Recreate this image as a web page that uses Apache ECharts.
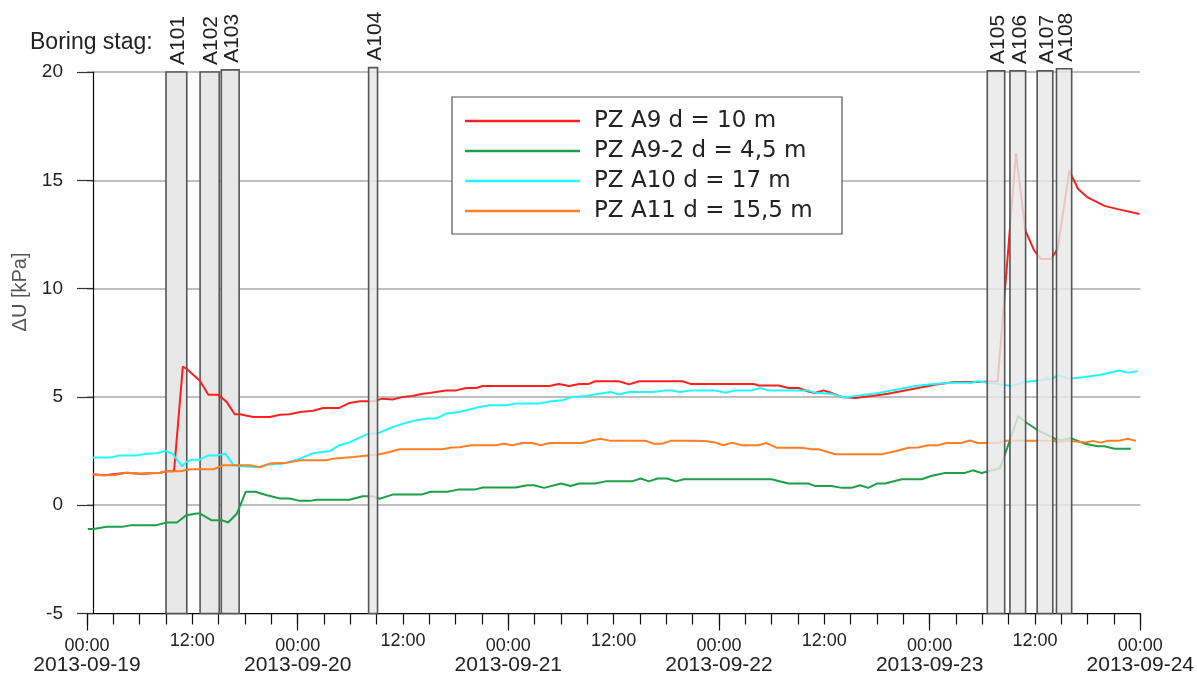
<!DOCTYPE html>
<html>
<head>
<meta charset="utf-8">
<script src="https://cdn.jsdelivr.net/npm/echarts@6/dist/echarts.min.js"></script>
<style>
  html, body { margin: 0; padding: 0; background: #fff; }
  #chart { width: 1197px; height: 676px; }
</style>
</head>
<body>
<div id="chart"></div>
<script>
// Pore pressure change at piezometers during drilling, 19–24 Sept 2013
const YEAR = 2013;

const redTimes = ['09-19 00:40','09-19 02:00','09-19 04:30','09-19 06:05','09-19 08:20','09-19 09:05','09-19 09:55','09-19 10:55','09-19 11:20','09-19 12:50','09-19 13:50','09-19 14:57','09-19 15:55','09-19 16:50','09-19 17:25','09-19 18:55','09-19 20:50','09-19 21:58','09-19 23:05','09-20 00:15','09-20 01:45','09-20 02:55','09-20 04:45','09-20 05:55','09-20 07:05','09-20 08:35','09-20 09:40','09-20 10:50','09-20 12:00','09-20 13:05','09-20 14:15','09-20 15:00','09-20 16:55','09-20 18:05','09-20 19:10','09-20 20:20','09-20 21:05','09-21 04:40','09-21 05:45','09-21 06:55','09-21 08:05','09-21 09:10','09-21 09:55','09-21 12:35','09-21 13:45','09-21 14:55','09-21 19:50','09-21 20:45','09-22 03:55','09-22 04:30','09-22 06:45','09-22 07:55','09-22 09:05','09-22 10:10','09-22 10:55','09-22 11:55','09-22 12:50','09-22 14:00','09-22 15:30','09-22 17:25','09-22 19:15','09-22 21:10','09-22 22:40','09-23 00:35','09-23 02:50','09-23 05:30','09-23 07:45','09-23 09:50','09-23 10:55','09-23 11:55','09-23 12:40','09-23 13:50','09-23 14:35','09-23 15:55','09-23 16:55','09-23 18:00','09-23 19:55','09-23 21:25','09-23 23:55'];
const redValues = [1.43,1.38,1.5,1.45,1.5,1.57,1.57,6.4,6.3,5.76,5.1,5.1,4.76,4.2,4.2,4.07,4.07,4.18,4.2,4.3,4.36,4.49,4.49,4.72,4.8,4.8,4.92,4.88,5.0,5.04,5.15,5.18,5.3,5.3,5.41,5.41,5.5,5.5,5.6,5.5,5.6,5.6,5.72,5.72,5.58,5.72,5.72,5.6,5.6,5.53,5.53,5.41,5.41,5.25,5.18,5.3,5.18,5.0,4.95,5.04,5.15,5.3,5.41,5.56,5.69,5.69,5.72,16.25,12.67,11.75,11.37,11.37,11.83,15.44,14.6,14.21,13.82,13.67,13.44];

const greenTimes = ['09-19 00:05','09-19 00:45','09-19 02:15','09-19 04:00','09-19 05:05','09-19 07:55','09-19 09:05','09-19 10:15','09-19 11:20','09-19 12:30','09-19 12:50','09-19 14:10','09-19 15:20','09-19 16:05','09-19 17:05','09-19 18:05','09-19 19:10','09-19 20:30','09-19 22:00','09-19 23:05','09-20 00:15','09-20 01:25','09-20 02:10','09-20 05:55','09-20 07:25','09-20 08:35','09-20 09:20','09-20 10:50','09-20 14:05','09-20 15:10','09-20 17:05','09-20 18:15','09-20 20:10','09-20 21:05','09-21 00:50','09-21 02:10','09-21 02:55','09-21 04:05','09-21 06:00','09-21 07:05','09-21 08:05','09-21 09:55','09-21 11:05','09-21 14:05','09-21 15:05','09-21 16:00','09-21 17:00','09-21 18:05','09-21 19:05','09-21 20:00','09-22 06:00','09-22 07:55','09-22 10:10','09-22 10:55','09-22 12:50','09-22 14:00','09-22 15:05','09-22 16:05','09-22 17:00','09-22 18:00','09-22 18:55','09-22 20:50','09-22 23:05','09-23 00:10','09-23 01:45','09-23 04:00','09-23 04:55','09-23 05:55','09-23 08:00','09-23 09:05','09-23 10:05','09-23 10:55','09-23 12:20','09-23 14:15','09-23 15:00','09-23 16:05','09-23 17:40','09-23 19:10','09-23 19:55','09-23 21:05','09-23 22:55'];
const greenValues = [-1.1,-1.1,-1.0,-1.0,-0.92,-0.92,-0.8,-0.8,-0.46,-0.38,-0.38,-0.69,-0.69,-0.8,-0.38,0.62,0.62,0.46,0.31,0.31,0.2,0.2,0.25,0.25,0.41,0.41,0.3,0.49,0.49,0.62,0.62,0.72,0.72,0.82,0.82,0.92,0.92,0.8,1.0,0.89,1.0,1.0,1.1,1.1,1.23,1.1,1.23,1.23,1.1,1.2,1.2,1.0,1.0,0.89,0.89,0.8,0.8,0.92,0.8,1.0,1.0,1.2,1.2,1.35,1.49,1.49,1.61,1.49,1.7,2.92,4.12,3.84,3.46,3.07,3.0,3.1,2.84,2.72,2.72,2.61,2.61];

const cyanTimes = ['09-19 00:40','09-19 02:40','09-19 03:45','09-19 05:40','09-19 06:50','09-19 07:55','09-19 08:55','09-19 09:40','09-19 10:50','09-19 11:20','09-19 11:55','09-19 12:50','09-19 13:50','09-19 14:45','09-19 15:45','09-19 16:40','09-19 17:25','09-19 19:40','09-19 20:30','09-19 22:20','09-20 00:15','09-20 01:45','09-20 03:40','09-20 04:45','09-20 05:55','09-20 07:50','09-20 09:20','09-20 10:50','09-20 12:20','09-20 13:30','09-20 14:50','09-20 15:45','09-20 16:55','09-20 18:25','09-20 19:35','09-20 20:40','09-20 21:50','09-20 23:45','09-21 00:50','09-21 03:30','09-21 04:40','09-21 06:10','09-21 07:20','09-21 08:50','09-21 10:20','09-21 11:40','09-21 12:35','09-21 13:45','09-21 16:25','09-21 17:55','09-21 18:40','09-21 19:35','09-21 20:45','09-21 23:35','09-22 00:45','09-22 01:50','09-22 03:45','09-22 04:40','09-22 05:40','09-22 10:10','09-22 10:55','09-22 12:50','09-22 14:00','09-22 14:45','09-22 15:55','09-22 18:10','09-22 20:25','09-22 22:20','09-23 00:10','09-23 02:30','09-23 04:45','09-23 05:30','09-23 06:40','09-23 07:45','09-23 09:20','09-23 10:50','09-23 12:20','09-23 14:00','09-23 14:35','09-23 15:55','09-23 17:40','09-23 19:30','09-23 21:35','09-23 22:35','09-23 23:40'];
const cyanValues = [2.2,2.2,2.3,2.3,2.38,2.4,2.5,2.4,1.8,2.0,2.1,2.1,2.3,2.3,2.38,1.87,1.8,1.75,1.87,1.92,2.15,2.4,2.5,2.77,2.9,3.27,3.35,3.61,3.8,3.92,4.0,4.0,4.23,4.3,4.42,4.53,4.61,4.61,4.69,4.69,4.79,4.84,5.0,5.04,5.15,5.23,5.11,5.23,5.23,5.3,5.3,5.23,5.3,5.3,5.19,5.3,5.3,5.41,5.3,5.3,5.19,5.15,5.0,5.0,5.07,5.18,5.35,5.5,5.58,5.65,5.65,5.72,5.65,5.6,5.5,5.69,5.76,5.84,5.99,5.84,5.92,6.02,6.22,6.12,6.19];

const orangeTimes = ['09-19 00:40','09-19 01:30','09-19 03:00','09-19 04:30','09-19 06:05','09-19 08:20','09-19 09:05','09-19 10:35','09-19 11:45','09-19 14:25','09-19 15:30','09-19 18:35','09-19 19:40','09-19 20:50','09-19 22:45','09-20 00:15','09-20 03:15','09-20 04:00','09-20 06:20','09-20 09:20','09-20 10:30','09-20 11:35','09-20 16:30','09-20 17:30','09-20 18:25','09-20 19:45','09-20 22:35','09-20 23:30','09-21 00:30','09-21 01:35','09-21 02:45','09-21 03:40','09-21 04:40','09-21 08:25','09-21 09:35','09-21 10:30','09-21 11:40','09-21 15:40','09-21 16:35','09-21 17:30','09-21 18:30','09-21 21:20','09-21 22:40','09-21 23:35','09-22 00:30','09-22 01:30','09-22 02:35','09-22 04:30','09-22 05:25','09-22 06:35','09-22 09:25','09-22 10:35','09-22 11:20','09-22 13:15','09-22 18:30','09-22 20:05','09-22 21:35','09-22 22:40','09-22 23:50','09-23 00:58','09-23 01:55','09-23 03:35','09-23 04:35','09-23 05:30','09-23 07:45','09-23 08:35','09-23 14:15','09-23 14:35','09-23 15:45','09-23 17:40','09-23 18:35','09-23 19:30','09-23 20:15','09-23 21:25','09-23 22:35','09-23 23:30'];
const orangeValues = [1.43,1.38,1.38,1.5,1.45,1.5,1.57,1.57,1.66,1.66,1.84,1.84,1.75,1.92,1.96,2.07,2.07,2.15,2.23,2.35,2.46,2.58,2.58,2.66,2.68,2.77,2.77,2.84,2.77,2.87,2.87,2.77,2.87,2.87,3.0,3.07,2.97,2.97,2.84,2.84,2.97,2.97,2.95,2.89,2.77,2.89,2.77,2.77,2.87,2.65,2.65,2.58,2.58,2.35,2.35,2.49,2.65,2.66,2.77,2.77,2.87,2.87,2.99,2.87,2.87,2.97,2.97,2.89,2.97,2.89,2.97,2.89,2.97,2.97,3.07,2.97];

// Boreholes drilled ("boring stag"): start, end, drawn height in kPa
const boreNames  = ['A101','A102','A103','A104','A105','A106','A107','A108'];
const boreStart  = ['09-19 09:00','09-19 12:53','09-19 15:18','09-20 08:05','09-23 06:34','09-23 09:09','09-23 12:15','09-23 14:27'];
const boreEnd    = ['09-19 11:22','09-19 15:04','09-19 17:20','09-20 09:06','09-23 08:33','09-23 10:56','09-23 14:02','09-23 16:11'];
const boreTop    = [20, 20, 20.1, 20.2, 20.05, 20.05, 20.05, 20.15];

const seriesNames = ['PZ A9 d = 10 m', 'PZ A9-2 d = 4,5 m', 'PZ A10 d = 17 m', 'PZ A11 d = 15,5 m'];
const yTicks = { min: -5, max: 20, step: 5 };
const xStart = '09-19 00:00', xEnd = '09-24 00:00';

const HOUR = 3600 * 1000;
function T(s) {
  return Date.UTC(YEAR, +s.slice(0, 2) - 1, +s.slice(3, 5), +s.slice(6, 8), +s.slice(9, 11));
}
function pad(n) { return (n < 10 ? '0' : '') + n; }
function pairs(times, values) { return times.map((t, i) => [T(t), values[i]]); }

const FONT = '"Liberation Sans", Arial, sans-serif';
const chart = echarts.init(document.getElementById('chart'), null, { renderer: 'canvas' });

function boreData(from, to) {
  const out = [];
  for (let i = from; i < to; i++) out.push([T(boreStart[i]), T(boreEnd[i]), boreTop[i]]);
  return out;
}

// Grey rectangle per borehole plus its vertical label above the plot
function boreRender(fill, first) {
  return function (params, api) {
    const p0 = api.coord([api.value(0), api.value(2)]);
    const p1 = api.coord([api.value(1), yTicks.min]);
    const name = boreNames[first + params.dataIndex];
    return {
      type: 'group',
      children: [
        {
          type: 'rect',
          shape: { x: p0[0], y: p0[1], width: p1[0] - p0[0], height: p1[1] - p0[1] },
          style: { fill: fill, stroke: '#555', lineWidth: 1.6 }
        },
        {
          type: 'text',
          x: (p0[0] + p1[0]) / 2 + 2,
          y: p0[1] - 7,
          rotation: Math.PI / 2,
          style: { text: name, textAlign: 'left', textVerticalAlign: 'middle', font: '21px ' + FONT, fill: '#222' }
        }
      ]
    };
  };
}

const lineColors = ['#ff1f1f', '#1f9e48', '#1ff8ff', '#ff7f27'];
const lineData = [pairs(redTimes, redValues), pairs(greenTimes, greenValues), pairs(cyanTimes, cyanValues), pairs(orangeTimes, orangeValues)];

const option = {
  animation: false,
  backgroundColor: '#fff',
  textStyle: { fontFamily: FONT },
  grid: { left: 87, right: 54, top: 72, bottom: 61, containLabel: false },
  legend: {
    orient: 'vertical',
    left: 452, top: 97,
    padding: [9, 15, 8, 13],
    itemGap: 0,
    itemWidth: 115, itemHeight: 2.5,
    icon: 'rect',
    backgroundColor: '#fff',
    borderColor: '#555', borderWidth: 1.2,
    selectedMode: false,
    textStyle: { fontFamily: '"DejaVu Sans", sans-serif', fontSize: 23, color: '#222', lineHeight: 30, padding: [0, 0, 0, 9], width: 233 },
    data: seriesNames
  },
  xAxis: [
    {
      type: 'value',
      min: T(xStart), max: T(xEnd), interval: 3 * HOUR,
      axisLine: { show: true, onZero: false, lineStyle: { color: '#000', width: 1.2 } },
      axisTick: { show: true, length: 11, lineStyle: { color: '#111', width: 1.2 } },
      splitLine: { show: false },
      axisLabel: {
        margin: 19, fontSize: 18, color: '#222', fontFamily: FONT,
        showMinLabel: true, showMaxLabel: true, hideOverlap: false,
        formatter: v => (new Date(v).getUTCHours() === 12 ? '12:00' : '')
      }
    },
    {
      type: 'value', position: 'bottom', offset: 0,
      min: T(xStart), max: T(xEnd), interval: 24 * HOUR,
      axisLine: { show: false, onZero: false },
      axisTick: { show: true, length: 17, lineStyle: { color: '#111', width: 1.2 } },
      splitLine: { show: false },
      axisLabel: {
        margin: 24, fontFamily: FONT, color: '#222',
        showMinLabel: true, showMaxLabel: true, hideOverlap: false,
        formatter: v => {
          const d = new Date(v);
          const date = d.getUTCFullYear() + '-' + pad(d.getUTCMonth() + 1) + '-' + pad(d.getUTCDate());
          return '{t|' + pad(d.getUTCHours()) + ':' + pad(d.getUTCMinutes()) + '}\n{d|' + date + '}';
        },
        rich: {
          t: { fontSize: 18, lineHeight: 18, fontFamily: FONT, color: '#222' },
          d: { fontSize: 21, lineHeight: 20, fontFamily: FONT, color: '#222' }
        }
      }
    }
  ],
  yAxis: {
    type: 'value',
    min: yTicks.min, max: yTicks.max, interval: yTicks.step,
    offset: -6,
    axisLine: { show: true, lineStyle: { color: '#000', width: 1.2 } },
    axisTick: { show: true, length: 16, lineStyle: { color: '#333', width: 1.2 } },
    axisLabel: { margin: 30, fontSize: 19, color: '#222', fontFamily: FONT },
    splitLine: { show: true, lineStyle: { color: '#aaa', width: 1.5 } }
  },
  graphic: [
    { type: 'text', left: 30, top: 31, style: { text: 'Boring stag:', font: '23px ' + FONT, fill: '#222' } },
    { type: 'text', x: 20, y: 292, rotation: Math.PI / 2,
      style: { text: '\u0394U [kPa]', font: '20px ' + FONT, fill: '#555', textAlign: 'center', textVerticalAlign: 'middle' } }
  ],
  series: [
    {
      type: 'custom', name: 'bores-under', z: 1, xAxisIndex: 0,
      encode: { x: [0, 1], y: 2 },
      renderItem: boreRender('#e8e8e8', 0),
      data: boreData(0, 3)
    }
  ].concat(seriesNames.map((name, i) => ({
    type: 'line', name: name, z: 2, xAxisIndex: 0,
    data: lineData[i],
    symbol: 'none', showSymbol: false,
    itemStyle: { color: lineColors[i] },
    lineStyle: { color: lineColors[i], width: 2 }
  }))).concat([
    {
      type: 'custom', name: 'bores-over', z: 3, xAxisIndex: 0,
      encode: { x: [0, 1], y: 2 },
      renderItem: boreRender('rgba(232,232,232,0.82)', 3),
      data: boreData(3, boreNames.length)
    }
  ])
};

chart.setOption(option);
</script>
</body>
</html>
